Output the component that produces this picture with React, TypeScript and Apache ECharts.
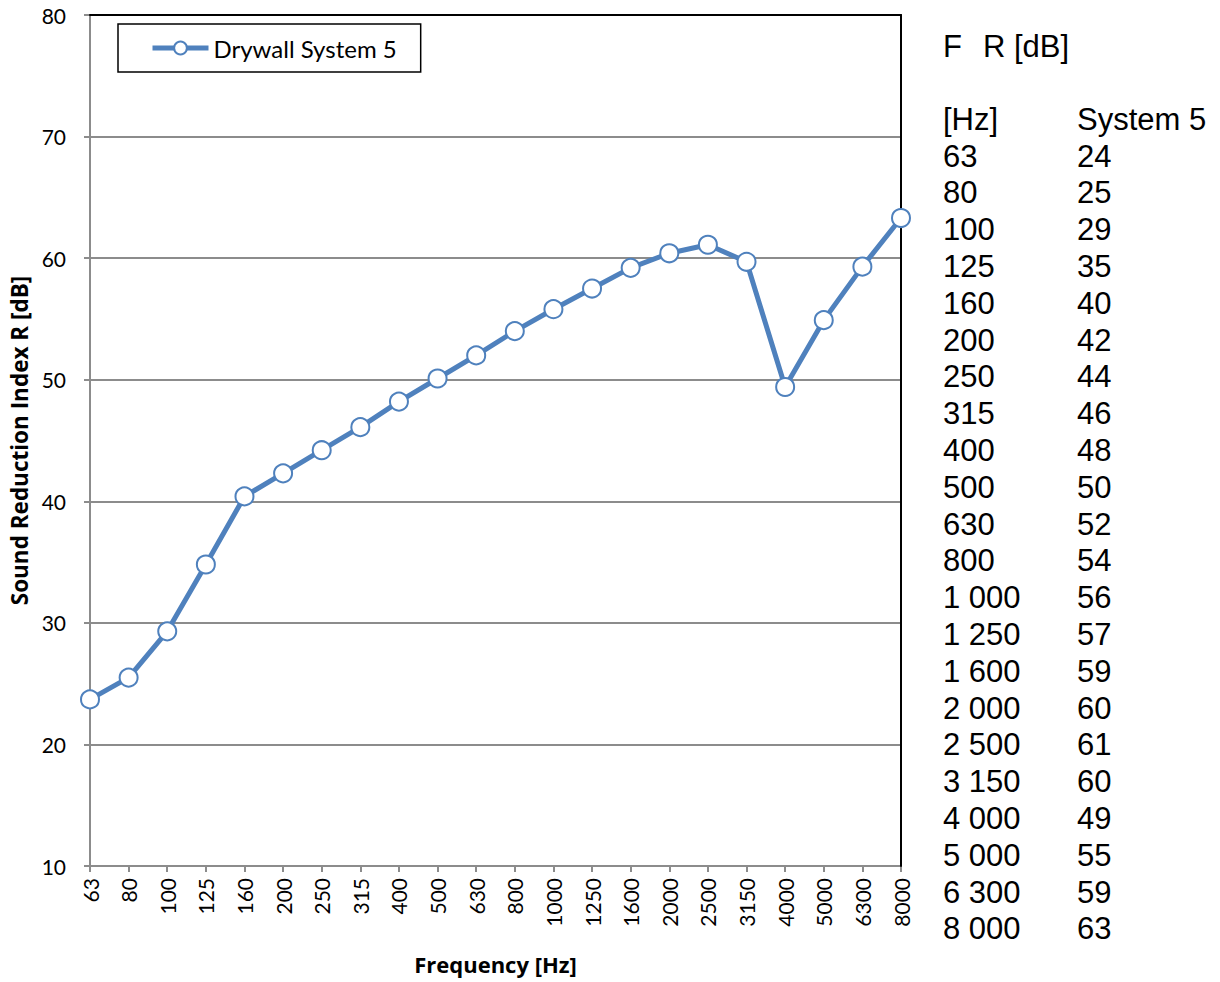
import React, { useEffect, useRef } from "react";
import * as echarts from "echarts";

const categories = ["63", "80", "100", "125", "160", "200", "250", "315", "400", "500", "630", "800", "1000", "1250", "1600", "2000", "2500", "3150", "4000", "5000", "6300", "8000"];
const seriesValues = [23.7, 25.5, 29.3, 34.8, 40.4, 42.3, 44.2, 46.1, 48.2, 50.1, 52.0, 54.0, 55.8, 57.5, 59.2, 60.4, 61.1, 59.7, 49.4, 54.9, 59.3, 63.3];
const tableFreqs = ["63", "80", "100", "125", "160", "200", "250", "315", "400", "500", "630", "800", "1 000", "1 250", "1 600", "2 000", "2 500", "3 150", "4 000", "5 000", "6 300", "8 000"];
const tableValues = ["24", "25", "29", "35", "40", "42", "44", "46", "48", "50", "52", "54", "56", "57", "59", "60", "61", "60", "49", "55", "59", "63"];
const seriesName = "Drywall System 5";

const BLUE = "#4F81BD";
const GREY = "#8c8c8c";
const FONT = "Lato";
const TITLE_FONT = "Open Sans";
const TFONT = "Liberation Sans";

export default function App() {
  const ref = useRef<HTMLDivElement>(null);
  useEffect(() => {
    if (!ref.current) return;
    const chart = echarts.init(ref.current, null, { renderer: "svg" });
    const tStyle = { fontFamily: TFONT, fontSize: 31, fill: "#000", verticalAlign: "middle" as const, align: "left" as const };
    const graphics: any[] = [
      { type: "text", x: 943, y: 46, style: { ...tStyle, text: "F" } },
      { type: "text", x: 983, y: 46, style: { ...tStyle, text: "R [dB]" } },
      { type: "text", x: 943, y: 119, style: { ...tStyle, text: "[Hz]" } },
      { type: "text", x: 1077, y: 119, style: { ...tStyle, text: "System 5" } },
    ];
    tableFreqs.forEach((f, i) => {
      const y = 156 + i * 36.8;
      graphics.push({ type: "text", x: 943, y, style: { ...tStyle, text: f } });
      graphics.push({ type: "text", x: 1077, y, style: { ...tStyle, text: tableValues[i] } });
    });
    chart.setOption({
      animation: false,
      backgroundColor: "#fff",
      grid: { left: 90, right: 319, top: 15, bottom: 116, containLabel: false, outerBoundsMode: "none" },
      legend: {
        left: 118,
        top: 24,
        orient: "horizontal",
        borderColor: "#000",
        borderWidth: 1.5,
        padding: [12, 24, 12, 32],
        itemWidth: 56,
        itemHeight: 16,
        itemGap: 10,
        lineStyle: { width: 5, color: BLUE },
        itemStyle: { color: "#fff", borderColor: BLUE, borderWidth: 2 },
        textStyle: { fontFamily: FONT, fontSize: 24, color: "#000" },
        data: [seriesName],
      },
      xAxis: [
        {
          type: "category",
          data: categories,
          boundaryGap: false,
          name: "Frequency [Hz]",
          nameLocation: "middle",
          nameGap: 87,
          nameTextStyle: { fontFamily: TITLE_FONT, fontSize: 22, fontWeight: "bold", color: "#000" },
          axisLine: { lineStyle: { color: GREY, width: 2 } },
          axisTick: { show: true, length: 6, lineStyle: { color: GREY, width: 2 } },
          axisLabel: { interval: 0, rotate: 90, fontFamily: FONT, fontSize: 21, color: "#000", margin: 12 },
          splitLine: { show: false },
        },
        {
          type: "category",
          data: categories,
          boundaryGap: false,
          position: "top",
          z: 5,
          axisLine: { show: true, lineStyle: { color: "#000", width: 2 } },
          axisTick: { show: false },
          axisLabel: { show: false },
          splitLine: { show: false },
        },
      ],
      yAxis: [
        {
          type: "value",
          min: 10,
          max: 80,
          interval: 10,
          name: "Sound Reduction Index R [dB]",
          nameLocation: "middle",
          nameGap: 56,
          nameTextStyle: { fontFamily: TITLE_FONT, fontSize: 22.5, fontWeight: "bold", color: "#000" },
          axisLine: { show: true, lineStyle: { color: GREY, width: 2 } },
          axisTick: { show: true, length: 6, lineStyle: { color: GREY, width: 2 } },
          axisLabel: { fontFamily: FONT, fontSize: 21, color: "#000", margin: 24, padding: [8, 0, 0, 0] },
          splitLine: { show: true, lineStyle: { color: GREY, width: 2 } },
        },
        {
          type: "value",
          min: 10,
          max: 80,
          interval: 10,
          position: "right",
          z: 5,
          axisLine: { show: true, lineStyle: { color: "#000", width: 2 } },
          axisTick: { show: false },
          axisLabel: { show: false },
          splitLine: { show: false },
        },
      ],
      series: [
        {
          name: seriesName,
          type: "line",
          data: seriesValues,
          xAxisIndex: 0,
          yAxisIndex: 0,
          z: 10,
          symbol: "circle",
          symbolSize: 18,
          lineStyle: { color: BLUE, width: 5 },
          itemStyle: { color: "#fff", borderColor: BLUE, borderWidth: 2 },
        },
      ],
      graphic: graphics,
    });
    return () => chart.dispose();
  }, []);
  return <div ref={ref} style={{ width: 1220, height: 982, position: "absolute", left: 0, top: 0 }} />;
}
